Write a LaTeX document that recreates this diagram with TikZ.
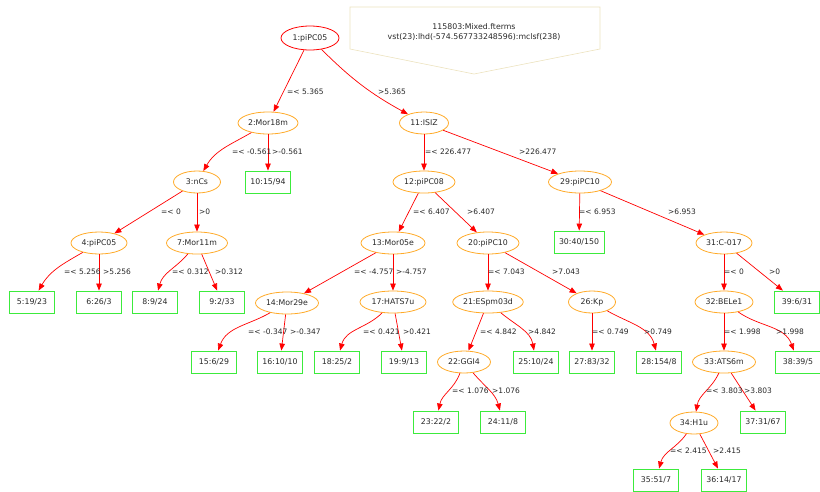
\documentclass[tikz,border=0pt]{standalone}
\usepackage{fontspec}
\setmainfont{DejaVu Sans}
\usetikzlibrary{shapes.geometric,arrows.meta}
\definecolor{ellorange}{RGB}{255,170,40}
\definecolor{leafgreen}{RGB}{60,235,60}
\definecolor{hdrbeige}{RGB}{236,226,190}
\definecolor{txt}{RGB}{40,40,40}
\begin{document}
\begin{tikzpicture}[x=1pt,y=-1pt,
  font=\fontsize{7.5}{10}\selectfont,
  split/.style={ellipse, draw=ellorange, line width=0.8pt, minimum height=22pt, inner sep=0pt, text=txt, font=\fontsize{7.8}{10}\selectfont},
  leaf/.style={rectangle, draw=leafgreen, line width=0.9pt, minimum width=45pt, minimum height=22pt, inner sep=0pt, text=txt, font=\fontsize{7.8}{10}\selectfont},
  lbl/.style={anchor=west, inner sep=0pt, text=txt},
  conn/.style={draw=red, line width=0.7pt, -{Triangle[length=7pt,width=5.5pt]}},
]
\path[use as bounding box] (0,0) rectangle (820,491);
% header
\draw[hdrbeige, line width=0.6pt] (350,7) -- (600,7) -- (600,49) -- (474,74) -- (350,49) -- cycle;
\node[align=center, text=txt, inner sep=0pt, font=\fontsize{7.8}{10}\selectfont] (hdr) at (474,32) {115803:Mixed.fterms\\vst(23):lhd(-574.567733248596):mclsf(238)};
% split nodes
\node[split, draw=red, minimum width=58pt, minimum height=24pt] (n1) at (310,38) {1:piPC05};
\node[split, minimum width=60pt] (n2) at (268,123) {2:Mor18m};
\node[split, minimum width=47pt] (n3) at (197,182) {3:nCs};
\node[split, minimum width=56pt] (n4) at (99,243) {4:piPC05};
\node[split, minimum width=61pt] (n7) at (197,243) {7:Mor11m};
\node[split, minimum width=49pt] (n11) at (424,123) {11:ISIZ};
\node[split, minimum width=62pt] (n12) at (424,182) {12:piPC08};
\node[split, minimum width=63pt] (n29) at (580,182) {29:piPC10};
\node[split, minimum width=64pt] (n13) at (393,243) {13:Mor05e};
\node[split, minimum width=62pt] (n20) at (488,243) {20:piPC10};
\node[split, minimum width=56pt] (n31) at (724,243) {31:C-017};
\node[split, minimum width=63pt] (n14) at (287,303) {14:Mor29e};
\node[split, minimum width=66pt] (n17) at (393,302) {17:HATS7u};
\node[split, minimum width=66pt] (n21) at (488,302) {21:ESpm03d};
\node[split, minimum width=47pt] (n26) at (592,302) {26:Kp};
\node[split, minimum width=58pt] (n32) at (724,302) {32:BELe1};
\node[split, minimum width=53pt] (n22) at (464,362) {22:GGI4};
\node[split, minimum width=63pt] (n33) at (724,362) {33:ATS6m};
\node[split, minimum width=48pt] (n34) at (694,423) {34:H1u};
% leaves
\node[leaf] (n10) at (268,182) {10:15/94};
\node[leaf] (n5) at (32,302) {5:19/23};
\node[leaf] (n6) at (99,302) {6:26/3};
\node[leaf] (n8) at (155,302) {8:9/24};
\node[leaf] (n9) at (222,302) {9:2/33};
\node[leaf, minimum width=50pt] (n30) at (579,242) {30:40/150};
\node[leaf] (n39) at (797,302) {39:6/31};
\node[leaf] (n15) at (214,362) {15:6/29};
\node[leaf] (n16) at (280,362) {16:10/10};
\node[leaf] (n18) at (337,362) {18:25/2};
\node[leaf] (n19) at (404,362) {19:9/13};
\node[leaf] (n25) at (536,362) {25:10/24};
\node[leaf] (n27) at (592,362) {27:83/32};
\node[leaf] (n28) at (659,362) {28:154/8};
\node[leaf] (n38) at (798,362) {38:39/5};
\node[leaf] (n23) at (436,422) {23:22/2};
\node[leaf] (n24) at (503,422) {24:11/8};
\node[leaf] (n37) at (763,422) {37:31/67};
\node[leaf] (n35) at (656,480) {35:51/7};
\node[leaf] (n36) at (724,480) {36:14/17};
% edges
\draw[conn] (n1) -- (n2);
\draw[conn] (n1) to[bend right=8] (n11);
\draw[conn] (n2) -- (n10);
\draw[conn] (n2) to[out=-150,in=60] (n3);
\draw[conn] (n3) -- (n4);
\draw[conn] (n3) -- (n7);
\draw[conn] (n4) to[out=-150,in=60] (n5);
\draw[conn] (n4) -- (n6);
\draw[conn] (n7) to[out=-130,in=75] (n8);
\draw[conn] (n7) -- (n9);
\draw[conn] (n11) -- (n12);
\draw[conn] (n11) -- (n29);
\draw[conn] (n12) -- (n13);
\draw[conn] (n12) -- (n20);
\draw[conn] (n13) -- (n14);
\draw[conn] (n13) -- (n17);
\draw[conn] (n14) to[out=-150,in=70] (n15);
\draw[conn] (n14) -- (n16);
\draw[conn] (n17) to[out=-135,in=75] (n18);
\draw[conn] (n17) -- (n19);
\draw[conn] (n20) -- (n21);
\draw[conn] (n20) -- (n26);
\draw[conn] (n21) -- (n22);
\draw[conn] (n21) to[out=-40,in=100] (n25);
\draw[conn] (n22) to[out=-110,in=78] (n23);
\draw[conn] (n22) to[out=-50,in=105] (n24);
\draw[conn] (n26) -- (n27);
\draw[conn] (n26) to[out=-30,in=105] (n28);
\draw[conn] (n29) -- (n30);
\draw[conn] (n29) -- (n31);
\draw[conn] (n31) -- (n32);
\draw[conn] (n31) -- (n39);
\draw[conn] (n32) -- (n33);
\draw[conn] (n32) to[out=-35,in=110] (n38);
\draw[conn] (n33) to[out=-115,in=80] (n34);
\draw[conn] (n33) -- (n37);
\draw[conn] (n34) to[out=-125,in=75] (n35);
\draw[conn] (n34) -- (n36);
% edge labels
\node[lbl] (l1a) at (287,92) {=< 5.365};
\node[lbl] (l1b) at (378,92) {>5.365};
\node[lbl] (l2a) at (232,152) {=< -0.561};
\node[lbl] (l2b) at (272,152) {>-0.561};
\node[lbl] (l3a) at (161,212) {=< 0};
\node[lbl] (l3b) at (199,212) {>0};
\node[lbl] (l4a) at (64,272) {=< 5.256};
\node[lbl] (l4b) at (103,272) {>5.256};
\node[lbl] (l7a) at (172,272) {=< 0.312};
\node[lbl] (l7b) at (215,272) {>0.312};
\node[lbl] (l13a) at (354,272) {=< -4.757};
\node[lbl] (l13b) at (396,272) {>-4.757};
\node[lbl] (l11a) at (425,152) {=< 226.477};
\node[lbl] (l11b) at (519,152) {>226.477};
\node[lbl] (l12a) at (413,212) {=< 6.407};
\node[lbl] (l12b) at (467,212) {>6.407};
\node[lbl] (l29a) at (579,212) {=< 6.953};
\node[lbl] (l29b) at (668,212) {>6.953};
\node[lbl] (l20a) at (488,272) {=< 7.043};
\node[lbl] (l20b) at (552,272) {>7.043};
\node[lbl] (l31a) at (724,272) {=< 0};
\node[lbl] (l31b) at (769,272) {>0};
\node[lbl] (l14a) at (248,332) {=< -0.347};
\node[lbl] (l14b) at (290,332) {>-0.347};
\node[lbl] (l17a) at (363,332) {=< 0.421};
\node[lbl] (l17b) at (403,332) {>0.421};
\node[lbl] (l21a) at (480,332) {=< 4.842};
\node[lbl] (l21b) at (528,332) {>4.842};
\node[lbl] (l22a) at (452,391) {=< 1.076};
\node[lbl] (l22b) at (492,391) {>1.076};
\node[lbl] (l26a) at (592,332) {=< 0.749};
\node[lbl] (l26b) at (644,332) {>0.749};
\node[lbl] (l32a) at (724,332) {=< 1.998};
\node[lbl] (l32b) at (776,332) {>1.998};
\node[lbl] (l33a) at (706,391) {=< 3.803};
\node[lbl] (l33b) at (744,391) {>3.803};
\node[lbl] (l34a) at (670,451) {=< 2.415};
\node[lbl] (l34b) at (713,451) {>2.415};
\end{tikzpicture}
\end{document}
